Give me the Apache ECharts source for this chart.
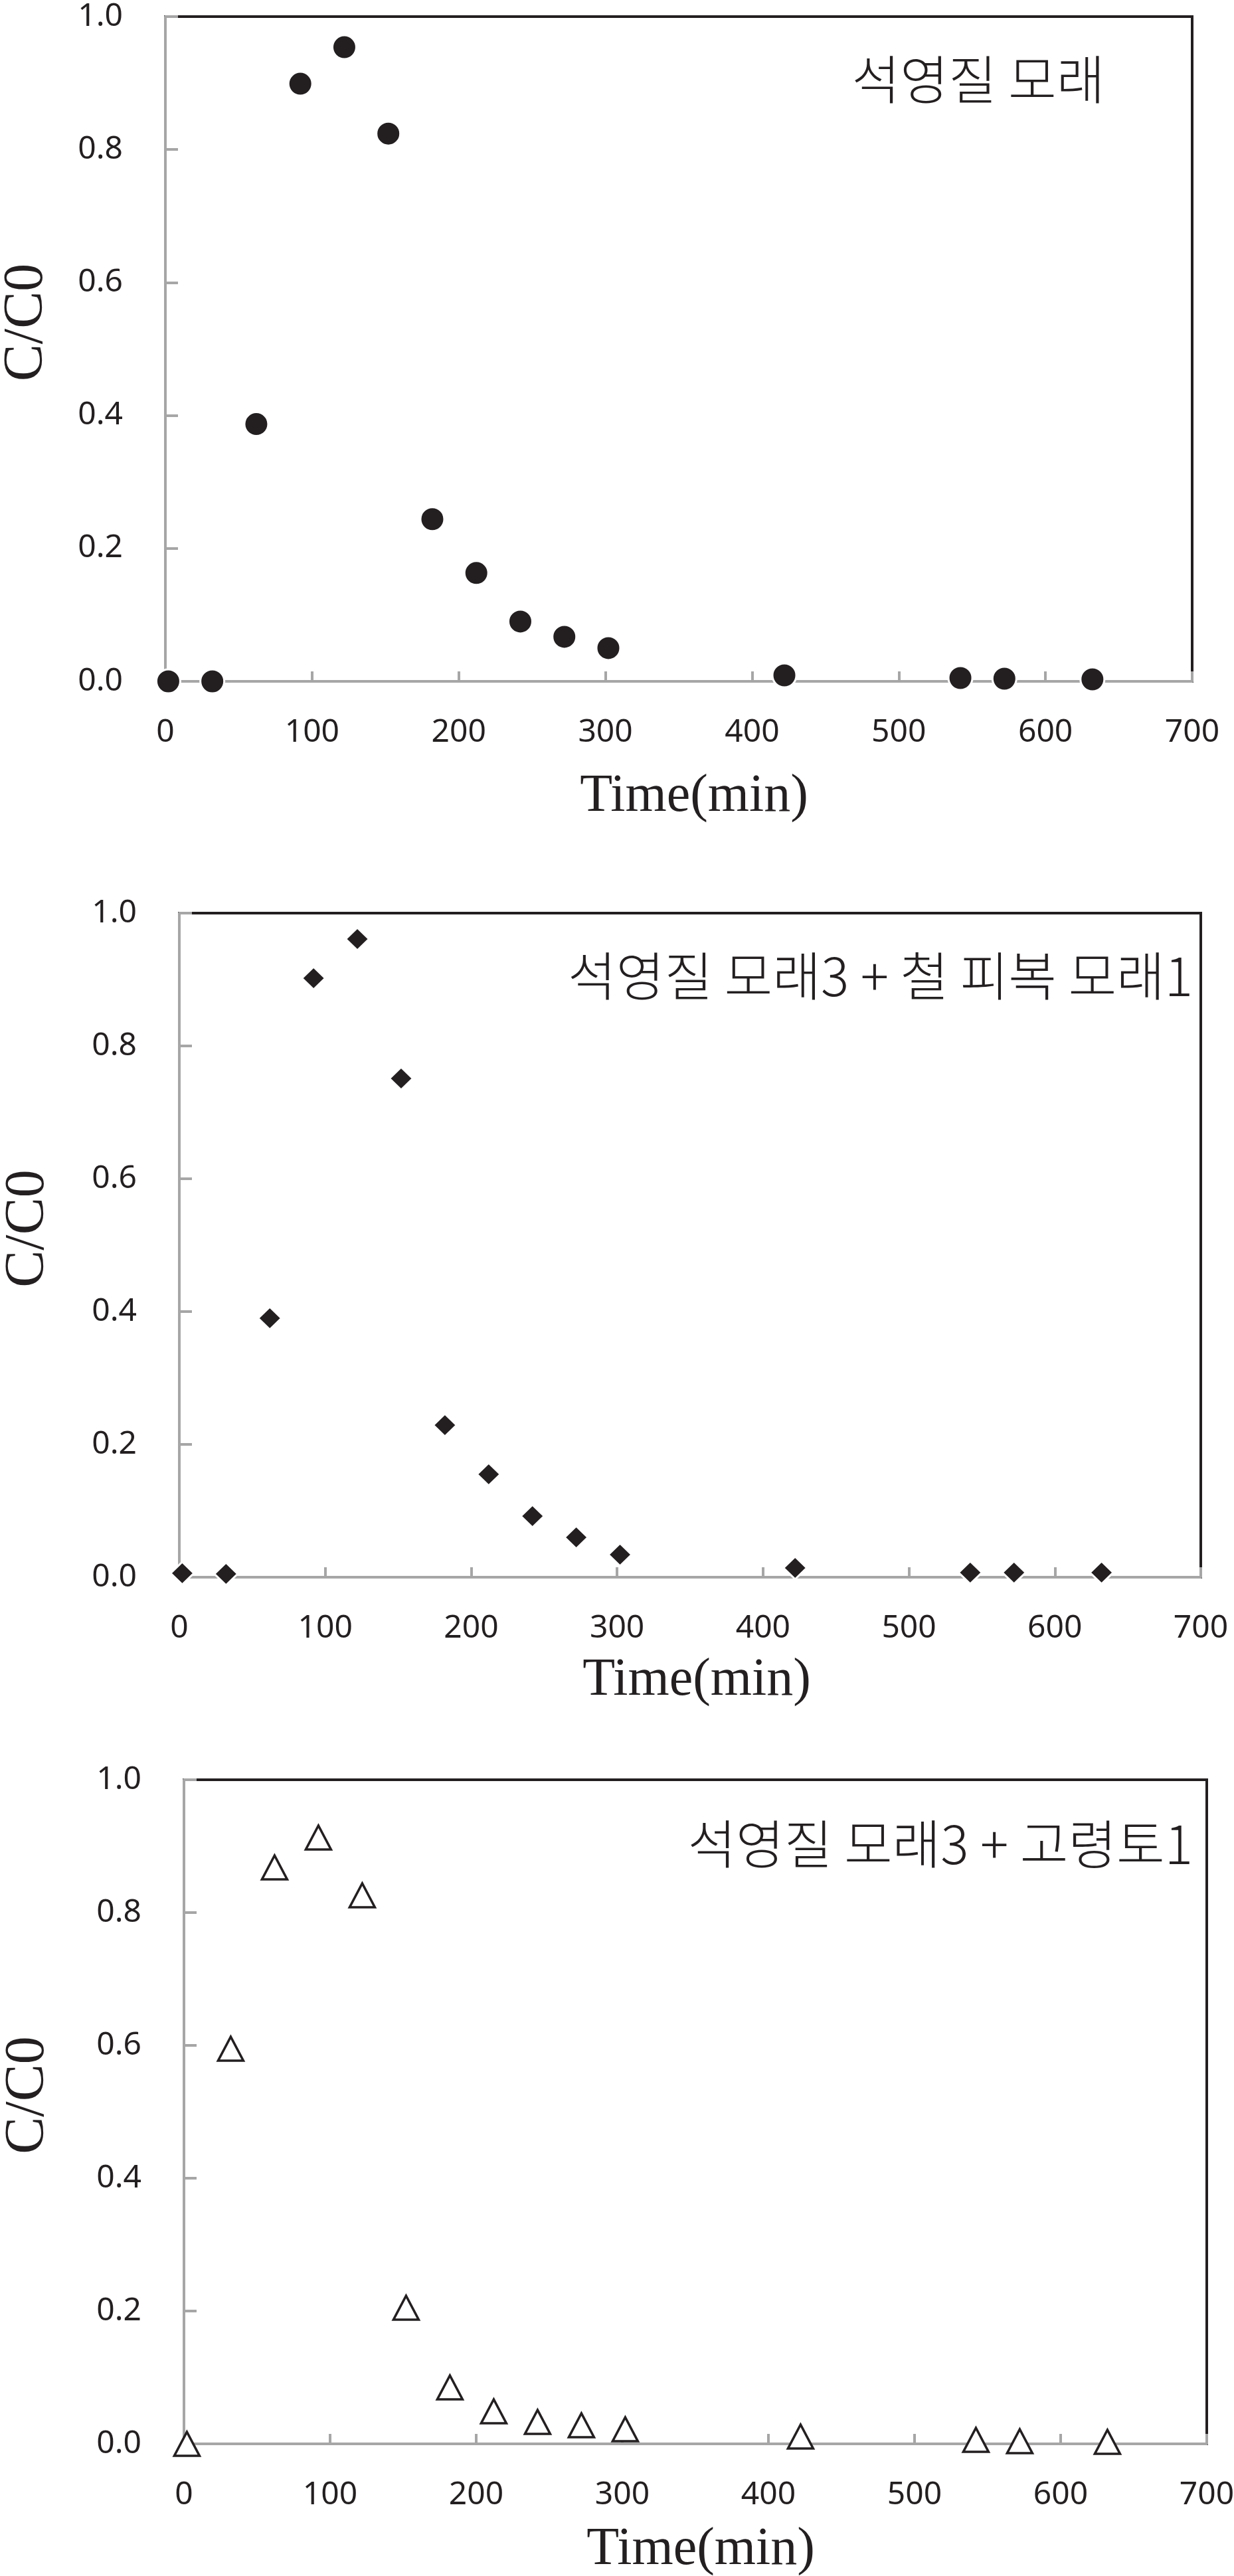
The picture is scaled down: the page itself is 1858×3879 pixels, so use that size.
<!DOCTYPE html>
<html>
<head>
<meta charset="utf-8">
<script src="https://cdn.jsdelivr.net/npm/echarts@6/dist/echarts.min.js"></script>
<style>
html,body{margin:0;padding:0;background:#fff;}
#chart{width:1858px;height:3879px;}
</style>
</head>
<body>
<div id="chart"></div>
<script>
// ---- data ----
const timeMin = [2, 32, 62, 92, 122, 152, 182, 212, 242, 272, 302, 422, 542, 572, 632];
const quartzSand = [0.000, 0.000, 0.387, 0.899, 0.954, 0.824, 0.244, 0.163, 0.090, 0.067, 0.050, 0.009, 0.005, 0.004, 0.003];
const quartzIronSand = [0.006, 0.005, 0.390, 0.902, 0.961, 0.751, 0.229, 0.155, 0.092, 0.060, 0.034, 0.014, 0.007, 0.007, 0.007];
const quartzKaolin = [0.000, 0.595, 0.868, 0.913, 0.826, 0.205, 0.085, 0.049, 0.033, 0.028, 0.022, 0.011, 0.006, 0.004, 0.003];
const panelLabels = ['석영질 모래', '석영질 모래3 + 철 피복 모래1', '석영질 모래3 + 고령토1'];
const xTitle = 'Time(min)';
const yTitle = 'C/C0';

// ---- layout ----
const DARK = '#231f20';
const GREY = '#a6a6a6';
const grids = [
  {left: 249, top: 25, width: 1546, height: 1001},
  {left: 270, top: 1375, width: 1538, height: 1000},
  {left: 277, top: 2680, width: 1540, height: 1000}
];
const xNameGap = [134, 116, 120];
const xNameShift = [46, 20, 16];
const yNameGap = [166, 185, 192];
const yNameShift = [80, 50, 50];
const labelPos = [
  {x: 1473, y: 120, align: 'center'},
  {x: 1796, y: 1470, align: 'right'},
  {x: 1796, y: 2777, align: 'right'}
];

const chart = echarts.init(document.getElementById('chart'), null, {renderer: 'canvas'});

const gridOpt = grids.map(g => Object.assign({
  show: true, borderColor: DARK, borderWidth: 4, backgroundColor: 'transparent',
  containLabel: false, outerBoundsMode: 'none'
}, g));

const xAxes = grids.map((g, i) => ({
  type: 'value', gridIndex: i, min: 0, max: 700, interval: 100,
  axisLine: {show: true, onZero: false, lineStyle: {color: GREY, width: 4}},
  axisTick: {show: true, inside: true, length: 15, lineStyle: {color: GREY, width: 4}},
  splitLine: {show: false},
  axisLabel: {margin: 53, color: DARK, fontSize: 48, fontFamily: 'Noto Sans'},
  name: xTitle, nameLocation: 'middle', nameGap: xNameGap[i],
  nameTextStyle: {fontFamily: 'Liberation Serif', fontSize: 80, color: DARK, padding: [0, 0, 0, xNameShift[i]]}
}));

const yAxes = grids.map((g, i) => ({
  type: 'value', gridIndex: i, min: 0, max: 1, interval: 0.2,
  axisLine: {show: true, onZero: false, lineStyle: {color: GREY, width: 4}},
  axisTick: {show: true, inside: true, length: 19, lineStyle: {color: GREY, width: 4}},
  splitLine: {show: false},
  axisLabel: {margin: 64, color: DARK, fontSize: 48, fontFamily: 'Noto Sans',
    formatter: v => v.toFixed(1)},
  name: yTitle, nameLocation: 'middle', nameGap: yNameGap[i], nameRotate: 90,
  nameTextStyle: {fontFamily: 'Liberation Serif', fontSize: 84, color: DARK, padding: [0, 0, 0, yNameShift[i]]}
}));

function pairs(ys) { return timeMin.map((t, k) => [t, ys[k]]); }

const series = [
  {type: 'scatter', xAxisIndex: 0, yAxisIndex: 0, data: pairs(quartzSand), symbol: 'circle', symbolSize: 36,
    itemStyle: {color: DARK, borderColor: '#fff', borderWidth: 3, opacity: 1}, z: 5},
  {type: 'scatter', xAxisIndex: 1, yAxisIndex: 1, data: pairs(quartzIronSand), symbol: 'diamond', symbolSize: [35, 34],
    itemStyle: {color: DARK, borderColor: '#fff', borderWidth: 3, opacity: 1}, z: 5},
  {type: 'scatter', xAxisIndex: 2, yAxisIndex: 2, data: pairs(quartzKaolin), symbol: 'triangle', symbolSize: [38, 36],
    itemStyle: {color: '#fff', borderColor: DARK, borderWidth: 3.5, opacity: 1}, z: 5}
];

const graphic = panelLabels.map((txt, i) => ({
  type: 'text', x: labelPos[i].x, y: labelPos[i].y, z: 10,
  style: {text: txt, fill: DARK, fontSize: 79, fontFamily: 'Noto Sans CJK KR', fontWeight: 300,
    align: labelPos[i].align, verticalAlign: 'middle'}
}));

chart.setOption({
  animation: false,
  backgroundColor: '#fff',
  grid: gridOpt,
  xAxis: xAxes,
  yAxis: yAxes,
  series: series,
  graphic: graphic
});
</script>
</body>
</html>
